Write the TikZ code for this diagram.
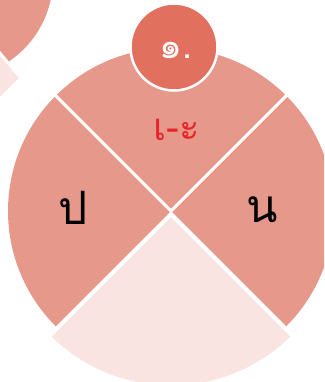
\documentclass[tikz,border=0pt]{standalone}
\usepackage{fontspec}
\newfontfamily\thaifont[Script=Thai]{Loma}
\definecolor{sect}{HTML}{E6998A}
\definecolor{pale}{HTML}{FAE4E2}
\definecolor{badge}{HTML}{E1705F}
\definecolor{redtxt}{HTML}{E8232A}
\tikzset{
  gap/.style={draw=white, line width=3pt},
  lbl/.style={font=\thaifont\fontsize{46}{52}\selectfont, text=black, inner sep=0pt},
}
\begin{document}
\begin{tikzpicture}[x=1pt,y=1pt]
\useasboundingbox (0,0) rectangle (324,-382);
\clip (0,0) rectangle (324,-382);
% partial neighbour diagram, top-left
\fill[sect] (-47,21.5) circle[radius=100];
\fill[white] (-30,-17) -- (120,-197) -- (-30,-197) -- cycle;
\fill[pale] (-10,-41) -- (20,-77) -- (-10,-107) -- cycle;
\draw[gap] (-12,-39) -- (20,-77);
% main sectors
\coordinate (c) at (171,-211);
\fill[sect] (c) -- ++(45:163) arc[start angle=45,end angle=135,radius=163] -- cycle;
\fill[sect] (c) -- ++(135:163) arc[start angle=135,end angle=225,radius=163] -- cycle;
\fill[sect] (c) -- ++(-45:163) arc[start angle=-45,end angle=45,radius=163] -- cycle;
\draw[gap] (c) -- ++(45:170);
\draw[gap] (c) -- ++(135:170);
% exploded bottom sector
\coordinate (p) at (171,-215);
\filldraw[fill=pale, draw=white, line width=3pt] (p) -- ++(225:172) arc[start angle=225,end angle=315,radius=172] -- cycle;
% badge
\node[circle, minimum size=87pt, fill=badge, draw=white, line width=2.5pt, inner sep=0pt] (badge) at (174,-47) {};
\node[font=\thaifont\fontsize{36}{42}\selectfont, text=white, inner sep=0pt] (num) at (176,-50) {๑.};
\node[font=\thaifont\fontsize{38}{44}\selectfont, text=redtxt, inner sep=0pt] (top) at (177,-130) {เ-ะ};
\node[lbl] (left) at (73,-208) {ป};
\node[lbl] (right) at (262,-210) {น};
\end{tikzpicture}
\end{document}
